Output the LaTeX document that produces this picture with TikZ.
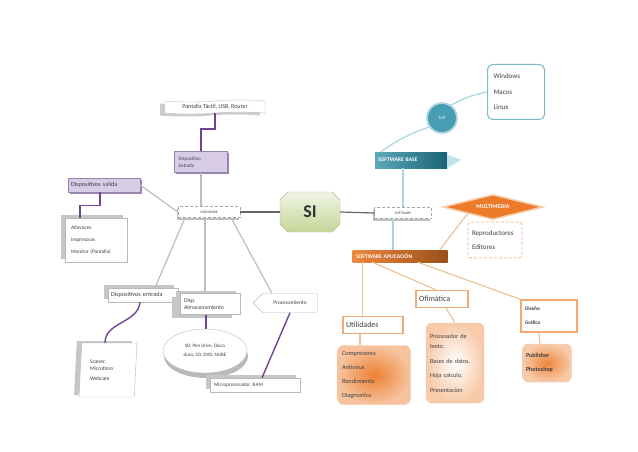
\documentclass[tikz,border=0pt]{standalone}
\usepackage{fontspec}
\setmainfont{Carlito}
\usetikzlibrary{shapes.geometric,shapes.misc,shapes.symbols,shadows,positioning,calc}
\definecolor{lilac}{RGB}{216,204,230}
\definecolor{lilacdark}{RGB}{150,132,172}
\definecolor{linegray}{RGB}{190,188,198}
\definecolor{linepurple}{RGB}{110,68,150}
\definecolor{baseteal}{RGB}{38,140,165}
\definecolor{lineblue}{RGB}{168,214,224}
\definecolor{apporange}{RGB}{236,122,40}
\definecolor{linetan}{RGB}{236,196,150}
\definecolor{sigreen}{RGB}{196,214,150}

\begin{document}
\begin{tikzpicture}[x=1pt, y=-1pt,
    every node/.style={font=\fontsize{5.5}{7}\selectfont, inner sep=1pt, text=black!75},
    banner/.style={tape, draw=gray!50, fill=white, minimum width=100pt, minimum height=14pt, tape bend top=in and out, tape bend bottom=in and out, tape bend height=2pt, font=\fontsize{6}{7}\selectfont, drop shadow={shadow xshift=-5pt, shadow yshift=-2.5pt, fill=gray!40, opacity=1}},
    hwbox/.style={rectangle, draw=lilacdark, fill=lilac, minimum height=14pt, drop shadow={shadow xshift=1.5pt, shadow yshift=-1.5pt, fill=lilacdark, opacity=1}},
    greybox/.style={rectangle, draw=gray!55, fill=white, minimum height=14pt, drop shadow={shadow xshift=-4pt, shadow yshift=3pt, fill=gray!45, opacity=1}},
    dashbox/.style={rectangle, draw=gray!70, densely dashed, fill=white, minimum height=11pt, font=\fontsize{3.6}{4}\selectfont, drop shadow={shadow xshift=-1.5pt, shadow yshift=-2pt, fill=gray!50, opacity=1}},
    core/.style={chamfered rectangle, chamfered rectangle xsep=4pt, chamfered rectangle ysep=4pt, draw=sigreen!70!gray, top color=sigreen!25, bottom color=sigreen, minimum width=60pt, minimum height=40pt, font=\fontsize{18}{20}\selectfont\bfseries, text=black!80},
    basebox/.style={rectangle, left color=baseteal!75, right color=baseteal!70!black, minimum width=72pt, minimum height=16pt, text width=66pt, align=left, text=white, font=\fontsize{5.6}{6}\selectfont\bfseries},
    oscircle/.style={circle, minimum size=30pt, draw=baseteal!35, line width=1.8pt, fill=baseteal!85, text=white, font=\fontsize{5}{6}\selectfont},
    osbox/.style={rectangle, rounded corners=5pt, draw=baseteal!60, line width=1pt, fill=white, minimum width=57pt, minimum height=55pt, text width=45pt, align=left, font=\fontsize{7}{15.5}\selectfont},
    appbox/.style={rectangle, left color=apporange!90, right color=apporange!65!black, minimum width=95pt, minimum height=12pt, text width=88pt, align=left, text=white, font=\fontsize{5.6}{6}\selectfont\bfseries},
    multid/.style={diamond, aspect=4, minimum width=100pt, minimum height=25pt, fill=apporange, draw=apporange!40, line width=1.5pt, text=white, font=\fontsize{6}{7}\selectfont\bfseries},
    dashorange/.style={rectangle, rounded corners=3pt, draw=apporange!60, densely dashed, thick, fill=white, minimum width=54pt, minimum height=36pt, text width=46pt, align=left, font=\fontsize{7}{14}\selectfont},
    catbox/.style={rectangle, draw=apporange!65, line width=1.5pt, fill=white, minimum height=17pt, align=left, font=\fontsize{8}{9}\selectfont},
    itembox/.style={rectangle, rounded corners=6pt, draw=apporange!45, align=left, font=\fontsize{6.3}{14}\selectfont},
    procshape/.style={signal, signal to=west, draw=gray!55, fill=white, minimum width=64pt, minimum height=19pt},
    scanbox/.style={trapezium, trapezium left angle=85, trapezium right angle=95, trapezium stretches=true, draw=gray!55, fill=white, minimum width=58pt, minimum height=54pt, text width=36pt, align=left, font=\fontsize{5.5}{7}\selectfont, drop shadow={shadow xshift=-5pt, shadow yshift=2pt, fill=gray!45, opacity=1}},
    storeell/.style={ellipse, draw=gray!55, fill=white, minimum width=84pt, minimum height=44pt, align=center, font=\fontsize{5}{9}\selectfont, drop shadow={shadow xshift=1pt, shadow yshift=-5pt, fill=gray!55, opacity=1}},
    grayline/.style={draw=linegray, line width=1.2pt},
    purpleline/.style={draw=linepurple, line width=1.4pt},
    blueline/.style={draw=lineblue, line width=1.2pt},
    tanline/.style={draw=linetan, line width=1.2pt}
]
    \useasboundingbox (0,0) rectangle (638,452);

    % hardware side
    \node[banner] (pantalla) at (215,107) {Pantalla Táctil, USB, Router};
    \node[hwbox, minimum width=53pt, minimum height=21pt, text width=45pt, align=left, font=\fontsize{5}{7}\selectfont] (dentrada) at (201,162) {Dispositivo\\Entrada};
    \node[hwbox, minimum width=72pt, text width=66pt, align=left, font=\fontsize{6.2}{7}\selectfont] (dsalida) at (104,185) {Dispositivos salida};
    \node[greybox, minimum width=62pt, minimum height=44pt, text width=50pt, align=left, font=\fontsize{5.3}{12}\selectfont] (salidalist) at (96,240) {Altavoces\\Impresoras\\Monitor (Pantalla)};
    \node[dashbox, minimum width=62pt] (hw) at (209,212) {HARDWARE};

    \node[core] (si) at (310,212) {SI};

    \node[greybox, minimum width=70pt, text width=64pt, align=left, font=\fontsize{6.2}{7}\selectfont] (dinput) at (143,295) {Dispositivos entrada};
    \node[greybox, minimum width=60pt, minimum height=21pt, text width=52pt, align=left, font=\fontsize{5.8}{7}\selectfont, drop shadow={shadow xshift=-8pt, shadow yshift=-3pt, fill=gray!45, opacity=1}] (almac) at (210,304) {Disp.\\Almacenamiento};
    \node[procshape] (proc) at (290,303) {Procesamiento};
    \node[scanbox] (scaner) at (108,370) {Scaner,\\Microfono\\[3pt]Webcam};
    \node[storeell] (storage) at (205,351) {SD, Pen drive, Disco\\duro, CD, DVD, NUBE};
    \node[greybox, minimum width=90pt, text width=82pt, align=left, font=\fontsize{5.2}{7}\selectfont] (micro) at (255,385) {Microprocesador, RAM};

    % software side
    \node[dashbox, minimum width=57pt] (sw) at (403,213) {SOFTWARE};
    \node[basebox] (swbase) at (411,160) {SOFTWARE BASE};
    \fill[lineblue!70] (swbase.north east) ++(0,3) -- ++(14,5) -- (swbase.south east) -- cycle;
    \node[oscircle] (so) at (442,118) {S.O};
    \node[osbox] (oslist) at (516,92) {Windows\\Macos\\Linux};

    \node[appbox] (swapp) at (400,256) {SOFTWARE APLICACIÓN};
    \node[multid] (multi) at (493,207) {MULTIMEDIA};
    \node[dashorange] (multilist) at (495,240) {Reproductores\\Editores};

    \node[catbox, minimum width=60pt, text width=54pt] (util) at (373,325) {Utilidades};
    \node[itembox, inner color=apporange!95, outer color=apporange!45, minimum width=73pt, minimum height=59pt, text width=64pt] (utillist) at (374,375) {Compresores\\Antivirus\\Rendimiento\\Diagnostico};
    \node[catbox, minimum width=52pt, text width=46pt] (ofi) at (442,299) {Ofimática};
    \node[itembox, inner color=white, outer color=apporange!40, minimum width=58pt, minimum height=80pt, text width=50pt, font=\fontsize{6.2}{14.5}\selectfont] (ofilist) at (455,363) {Procesador de\\[-4pt]texto.\\Bases de datos.\\Hoja calculo.\\Presentación};
    \node[catbox, minimum width=56pt, minimum height=32pt, text width=48pt, font=\fontsize{5.2}{14}\selectfont\bfseries] (diseno) at (549,316) {Diseño\\Gráfico};
    \node[itembox, inner color=apporange!90, outer color=apporange!40, minimum width=49pt, minimum height=38pt, text width=42pt, font=\fontsize{6}{14}\selectfont\bfseries] (disenolist) at (547,363) {Publisher\\Photoshop};

    % connectors
    \draw[purpleline] (pantalla.south) -- ++(0,16) -| (dentrada.north);
    \draw[grayline] (dentrada.south) -- (dentrada.south |- hw.north);
    \draw[purpleline] ([xshift=-4pt]dsalida.south) -- ++(0,13) -| ([xshift=15pt]salidalist.north west);
    \draw[grayline] (dsalida.east) -- (hw.west);
    \draw[draw=gray!80!black, line width=1.2pt] (hw.east) -- (si.west);
    \draw[draw=gray!80!black, line width=1.2pt] (si.east) -- (sw.west);
    \draw[grayline] ([xshift=-24pt]hw.south) -- ([xshift=12pt]dinput.north);
    \draw[grayline] ([xshift=-4pt]hw.south) -- ([xshift=-4pt]hw.south |- almac.north);
    \draw[grayline] ([xshift=22pt]hw.south) -- ([xshift=-18pt]proc.north);
    \draw[purpleline] ([xshift=-3pt]dinput.south) to[out=-95, in=90] ([xshift=-3pt]scaner.north);
    \draw[purpleline] ([xshift=-4pt]almac.south) -- ([xshift=-4pt]almac.south |- storage.north);
    \draw[purpleline] (proc.south) -- ([xshift=7pt]micro.north);

    \draw[blueline] (sw.north) -- (sw.north |- swbase.south);
    \draw[blueline] ([xshift=6pt]swbase.north west) to[bend left=8] (so.215);
    \draw[blueline] (so.55) to[bend left=8] (oslist.west);
    \draw[blueline] ([xshift=-10pt]sw.south) -- ([xshift=-10pt]sw.south |- swapp.north);

    \draw[tanline] ([xshift=-8pt]swapp.north east) -- (multi.south west);
    \draw[tanline] ([xshift=10pt]swapp.south west) -- ([xshift=10pt]swapp.south west |- util.north);
    \draw[tanline] ([xshift=20pt]swapp.south west) -- ([xshift=-6pt]ofi.north);
    \draw[tanline] ([xshift=-30pt]swapp.south east) -- (diseno.north west);
    \draw[tanline] ([xshift=-13pt]util.south) -- ([xshift=-13pt]util.south |- utillist.north);
    \draw[tanline] ([xshift=4pt]ofi.south) -- (ofilist.north);
    \draw[tanline] ([xshift=-10pt]diseno.south) -- ([xshift=-7pt]disenolist.north);

\end{tikzpicture}
\end{document}
